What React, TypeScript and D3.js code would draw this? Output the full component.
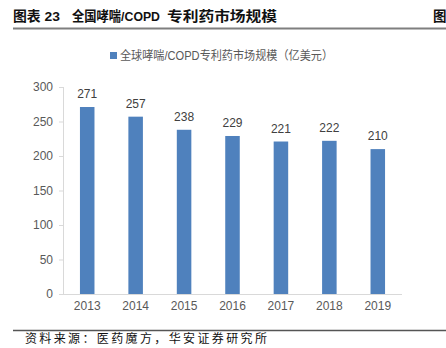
import React from "react";
import * as d3 from "d3";

const years = ["2013", "2014", "2015", "2016", "2017", "2018", "2019"];
const values = [271, 257, 238, 229, 221, 222, 210];
const yTicks = [0, 50, 100, 150, 200, 250, 300];
const titleParts = ["图表 23", "全国哮喘/COPD", "专利药市场规模"];
const legendText = "全球哮喘/COPD专利药市场规模（亿美元）";
const sourceText = "资料来源：医药魔方，华安证券研究所";

export default function App() {
  const W = 446, H = 348;
  const x = d3.scaleBand<string>().domain(years).range([63, 402]).paddingInner(0.7).paddingOuter(0.35);
  const y = d3.scaleLinear().domain([0, 300]).range([294, 87]);
  const font = "Liberation Sans, Arial, 'Noto Sans CJK SC', sans-serif";
  const tfont = "'Liberation Sans', 'Noto Sans CJK SC', sans-serif";
  const blue = "#4F81BD";
  const titleX = [13, 72, 167];
  const titleLen = [47, 88, 110];
  return (
    <svg width={W} height={H} style={{ position: "absolute", left: 0, top: 0 }}>
      <rect width={W} height={H} fill="#fff" />
      {titleParts.map((p, i) => (
        <text key={p} x={titleX[i]} y={21} fontSize={13.5} fontWeight="bold" fill="#111" fontFamily={tfont}
          textLength={titleLen[i]} lengthAdjust="spacingAndGlyphs">{p}</text>
      ))}
      <text x={433} y={21} fontSize={13.5} fontWeight="bold" fill="#111" fontFamily="'Noto Sans CJK SC', sans-serif">图</text>
      <line x1={13} x2={446} y1={28.5} y2={28.5} stroke="#7f7f7f" strokeWidth={2} />
      {/* legend */}
      <rect x={110} y={52} width={7} height={7} fill={blue} />
      <text x={120} y={60} fontSize={12} fill="#595959" fontFamily={font} textLength={213} lengthAdjust="spacingAndGlyphs">{legendText}</text>
      {/* y axis */}
      <line x1={63.5} x2={63.5} y1={y(300)} y2={y(0)} stroke="#d9d9d9" />
      {yTicks.map((t) => (
        <g key={t}>
          <line x1={59} x2={63.5} y1={y(t) + 0.5} y2={y(t) + 0.5} stroke="#d9d9d9" />
          <text x={53} y={y(t) + 4} fontSize={12} fill="#595959" textAnchor="end" fontFamily={font}>{t}</text>
        </g>
      ))}
      {/* bars */}
      {years.map((yr, i) => (
        <g key={yr}>
          <rect x={x(yr)!} y={y(values[i])} width={x.bandwidth()} height={y(0) - y(values[i])} fill={blue} />
          <text x={x(yr)! + x.bandwidth() / 2} y={y(values[i]) - 9} fontSize={12} fill="#404040" textAnchor="middle" fontFamily={font}>{values[i]}</text>
          <text x={x(yr)! + x.bandwidth() / 2} y={310} fontSize={12} fill="#595959" textAnchor="middle" fontFamily={font}>{yr}</text>
        </g>
      ))}
      <line x1={63} x2={402} y1={294.5} y2={294.5} stroke="#d9d9d9" />
      {/* footer */}
      <line x1={13} x2={446} y1={330.5} y2={330.5} stroke="#555" strokeWidth={1.3} />
      <text x={25} y={343} fontSize={12} fill="#111" fontFamily="'Noto Sans CJK SC', serif" textLength={242} lengthAdjust="spacing">{sourceText}</text>
    </svg>
  );
}
